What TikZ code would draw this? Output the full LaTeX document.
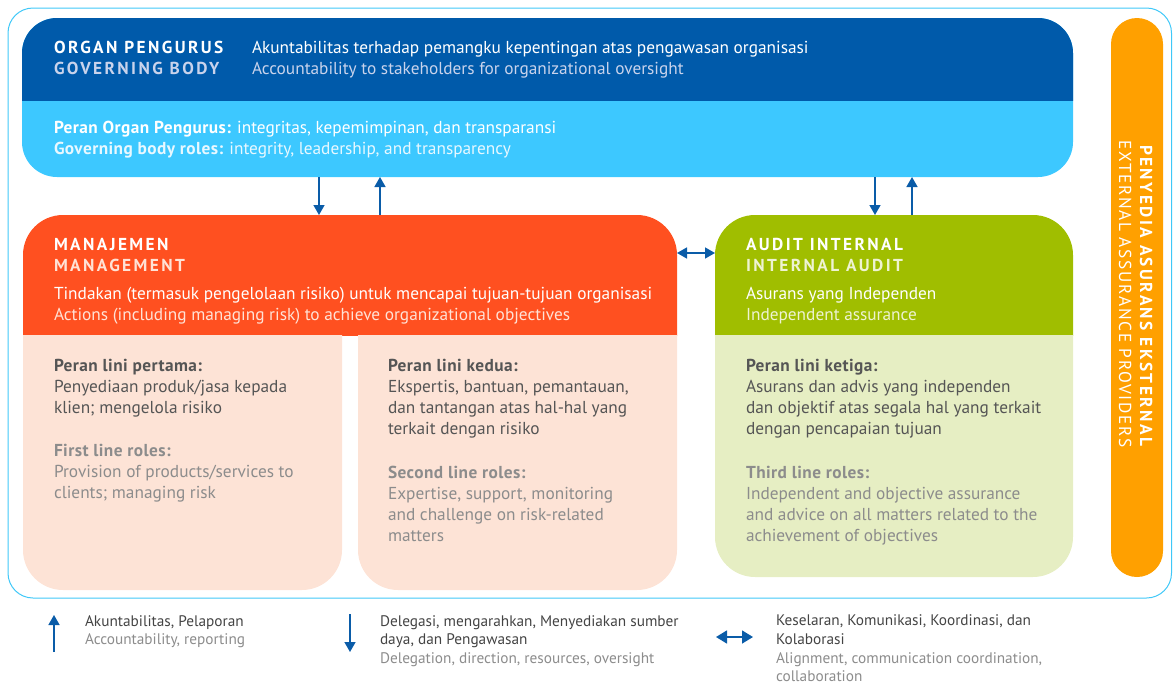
\documentclass[tikz,border=0pt]{standalone}
\usepackage{fontspec}
\setmainfont{PT Sans}
\newfontfamily\capsf[LetterSpace=14]{PT Sans}
\newfontfamily\capsr[LetterSpace=10]{PT Sans}
\newfontfamily\boldf[LetterSpace=2.5]{PT Sans}
\usetikzlibrary{arrows.meta}
\definecolor{dblue}{HTML}{005AAA}
\definecolor{lblue}{HTML}{3DC8FF}
\definecolor{bord}{HTML}{40C8F8}
\definecolor{mgmtc}{HTML}{FF5020}
\definecolor{mpale}{HTML}{FDE3D6}
\definecolor{grn}{HTML}{A0BE00}
\definecolor{gpale}{HTML}{E6EEC3}
\definecolor{orn}{HTML}{FFA000}
\definecolor{arrc}{HTML}{0A5CA8}
\definecolor{dtxt}{HTML}{555555}
\definecolor{gtxt}{HTML}{8C8C8C}
\definecolor{ltxt}{HTML}{444444}
\definecolor{hsub}{HTML}{C9D3EC}
\definecolor{msub}{HTML}{FFE2D6}
\definecolor{asub}{HTML}{EEF3D2}
\begin{document}
\begin{tikzpicture}[x=1pt,y=-1pt,
  tx/.style={anchor=base west,inner sep=0,outer sep=0,font=\fontsize{17.3}{20}\selectfont},
  tb/.style={tx,font=\fontsize{17.3}{20}\selectfont\boldf\bfseries},
  tc/.style={tx,font=\fontsize{17.3}{20}\selectfont\capsf\bfseries},
  lg/.style={anchor=base west,inner sep=0,outer sep=0,font=\fontsize{15.3}{18}\selectfont},
  area/.style={inner sep=0,outer sep=0,draw=none},
  ar/.style={draw=arrc,line width=1.5pt,-{Triangle[width=11pt,length=10pt]}},
  dar/.style={draw=arrc,line width=1.5pt,{Triangle[width=11pt,length=10pt]}-{Triangle[width=11pt,length=10pt]}}]
\useasboundingbox (0,0) rectangle (1173,683);
% outer frame
\draw[bord,line width=1pt,rounded corners=25] (8,8) rectangle (1171.5,598);
% governing body
\fill[lblue,rounded corners=35] (22,18) rectangle (1073,177);
\begin{scope}
\clip (0,0) rectangle (1173,100);
\fill[dblue,rounded corners=35] (22,18) rectangle (1073,177);
\end{scope}
\node[area,minimum width=1051,minimum height=159] (gov) at (547.5,97.5) {};
% management and audit
\begin{scope}
\clip (0,0) rectangle (1173,335);
\fill[mgmtc,rounded corners=40] (23,215) rectangle (677,420);
\fill[grn,rounded corners=40] (715,215) rectangle (1073,420);
\end{scope}
\begin{scope}
\clip (0,335) rectangle (1173,683);
\fill[mpale,rounded corners=40] (23,250) rectangle (342,590);
\fill[mpale,rounded corners=40] (358,250) rectangle (677,590);
\fill[gpale,rounded corners=40] (715,250) rectangle (1073,577);
\end{scope}
\node[area,minimum width=654,minimum height=375] (mgmt) at (350,402.5) {};
\node[area,minimum width=358,minimum height=362] (audit) at (894,396) {};
% external bar
\node[area,fill=orn,rounded corners=26,minimum width=52,minimum height=559] (ext) at (1137,297.5) {};
\node[anchor=base west,inner sep=0,rotate=-90,text=white,font=\fontsize{17.3}{20}\selectfont\capsf\bfseries] (e1) at (1140,145) {PENYEDIA ASURANS EKSTERNAL};
\node[anchor=base west,inner sep=0,rotate=-90,text=white,font=\fontsize{17.3}{20}\selectfont\capsr] (e2) at (1119,140) {EXTERNAL ASSURANCE PROVIDERS};
% arrows
\coordinate (c1) at (319,0);
\coordinate (c2) at (380,0);
\coordinate (c3) at (875,0);
\coordinate (c4) at (912,0);
\coordinate (c5) at (0,253);
\draw[ar] (gov.south -| c1) -- (mgmt.north -| c1);
\draw[ar] (mgmt.north -| c2) -- (gov.south -| c2);
\draw[ar] (gov.south -| c3) -- (audit.north -| c3);
\draw[ar] (audit.north -| c4) -- (gov.south -| c4);
\draw[dar] (mgmt.east |- c5) -- (audit.west |- c5);
% header texts
\node[tc,text=white] (h1) at (54,53.5) {ORGAN PENGURUS};
\node[tc,text=hsub] (h2) at (54,74.5) {GOVERNING BODY};
\node[tx,text=white] (h3) at (252,53.5) {Akuntabilitas terhadap pemangku kepentingan atas pengawasan organisasi};
\node[tx,text=hsub] (h4) at (252,74.5) {Accountability to stakeholders for organizational oversight};
\node[tx,text=white] (h5) at (54,133) {{\boldf\bfseries Peran Organ Pengurus:} integritas, kepemimpinan, dan transparansi};
\node[tx,text=white!88!lblue] (h6) at (54,154.5) {{\boldf\bfseries Governing body roles:} integrity, leadership, and transparency};
% management texts
\node[tc,text=white] (m1) at (54,250) {MANAJEMEN};
\node[tc,text=msub] (m2) at (54,271) {MANAGEMENT};
\node[tx,text=white] (m3) at (54,299) {Tindakan (termasuk pengelolaan risiko) untuk mencapai tujuan-tujuan organisasi};
\node[tx,text=msub] (m4) at (54,320) {Actions (including managing risk) to achieve organizational objectives};
\node[tb,text=dtxt] (p1) at (54,371) {Peran lini pertama:};
\node[tx,text=dtxt] (p2) at (54,392) {Penyediaan produk/jasa kepada};
\node[tx,text=dtxt] (p3) at (54,413) {klien; mengelola risiko};
\node[tb,text=gtxt] (p4) at (54,456) {First line roles:};
\node[tx,text=gtxt] (p5) at (54,477) {Provision of products/services to};
\node[tx,text=gtxt] (p6) at (54,498) {clients; managing risk};
\node[tb,text=dtxt] (q1) at (388,371) {Peran lini kedua:};
\node[tx,text=dtxt] (q2) at (388,392) {Ekspertis, bantuan, pemantauan,};
\node[tx,text=dtxt] (q3) at (388,413) {dan tantangan atas hal-hal yang};
\node[tx,text=dtxt] (q4) at (388,434) {terkait dengan risiko};
\node[tb,text=gtxt] (q5) at (388,478) {Second line roles:};
\node[tx,text=gtxt] (q6) at (388,499) {Expertise, support, monitoring};
\node[tx,text=gtxt] (q7) at (388,520) {and challenge on risk-related};
\node[tx,text=gtxt] (q8) at (388,541) {matters};
% audit texts
\node[tc,text=white] (a1) at (746,250) {AUDIT INTERNAL};
\node[tc,text=asub] (a2) at (746,271) {INTERNAL AUDIT};
\node[tx,text=white] (a3) at (746,299) {Asurans yang Independen};
\node[tx,text=asub] (a4) at (746,320) {Independent assurance};
\node[tb,text=dtxt] (r1) at (746,371) {Peran lini ketiga:};
\node[tx,text=dtxt] (r2) at (746,392) {Asurans dan advis yang independen};
\node[tx,text=dtxt] (r3) at (746,413) {dan objektif atas segala hal yang terkait};
\node[tx,text=dtxt] (r4) at (746,434) {dengan pencapaian tujuan};
\node[tb,text=gtxt] (r5) at (746,478) {Third line roles:};
\node[tx,text=gtxt] (r6) at (746,499) {Independent and objective assurance};
\node[tx,text=gtxt] (r7) at (746,520) {and advice on all matters related to the};
\node[tx,text=gtxt] (r8) at (746,541) {achievement of objectives};
% legend
\coordinate (l1a) at (54,652);
\coordinate (l1b) at (54,615);
\coordinate (l2a) at (350,614);
\coordinate (l2b) at (350,652);
\coordinate (l3a) at (716,637);
\coordinate (l3b) at (753,637);
\draw[ar] (l1a) -- (l1b);
\draw[ar] (l2a) -- (l2b);
\draw[draw=arrc,line width=1.5pt,{Triangle[width=13pt,length=11pt]}-{Triangle[width=13pt,length=11pt]}] (l3a) -- (l3b);
\node[lg,text=ltxt] (g1) at (85,626) {Akuntabilitas, Pelaporan};
\node[lg,text=gtxt] (g2) at (85,644) {Accountability, reporting};
\node[lg,text=ltxt] (g3) at (380,626) {Delegasi, mengarahkan, Menyediakan sumber};
\node[lg,text=ltxt] (g4) at (380,644) {daya, dan Pengawasan};
\node[lg,text=gtxt] (g5) at (380,663) {Delegation, direction, resources, oversight};
\node[lg,text=ltxt] (g6) at (776,625) {Keselaran, Komunikasi, Koordinasi, dan};
\node[lg,text=ltxt] (g7) at (776,644) {Kolaborasi};
\node[lg,text=gtxt] (g8) at (776,663) {Alignment, communication coordination,};
\node[lg,text=gtxt] (g9) at (776,681) {collaboration};
\end{tikzpicture}
\end{document}
